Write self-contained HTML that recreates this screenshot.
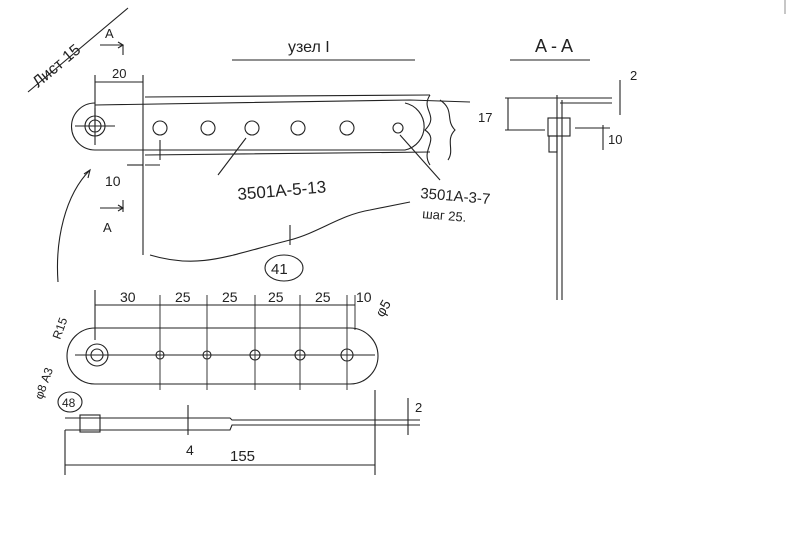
<!DOCTYPE html>
<html><head><meta charset="utf-8"><style>
html,body{margin:0;padding:0;background:#fff}
svg{display:block}
text{font-family:"Liberation Sans","Noto Sans CJK SC",sans-serif;fill:#222}
</style></head><body>
<svg width="800" height="550" viewBox="0 0 800 550" xmlns="http://www.w3.org/2000/svg" fill="none" stroke="#222" stroke-width="1.1">
<rect x="0" y="0" width="800" height="550" fill="#fff" stroke="none"/>
<line x1="785" y1="0" x2="785" y2="14" stroke="#999"/>
<!-- corner stamp -->
<line x1="28" y1="92" x2="128" y2="8"/>
<text x="0" y="0" font-size="16" transform="translate(38,88) rotate(-40)" stroke="none">Лист 15</text>
<!-- top view -->
<text x="105" y="38" font-size="13" stroke="none">A</text>
<line x1="100" y1="45" x2="123" y2="45"/><line x1="123" y1="45" x2="123" y2="55"/><path d="M118,42 L123,45 L118,48" />
<line x1="95" y1="75" x2="95" y2="125"/><line x1="143" y1="75" x2="143" y2="255"/>
<line x1="95" y1="82" x2="143" y2="82"/><text x="112" y="78" font-size="13" stroke="none">20</text>
<path d="M95,105 L410,100 L470,102"/>
<path d="M145,97 L430,95"/>
<path d="M95,103 A22,22 0 0 0 95,150 L405,150 A24,24 0 0 0 405,103"/>
<circle cx="95" cy="126" r="10"/><circle cx="95" cy="126" r="6"/>
<line x1="75" y1="126" x2="115" y2="126"/><line x1="95" y1="108" x2="95" y2="145"/>
<g>
<circle cx="160" cy="128" r="7"/><circle cx="208" cy="128" r="7"/><circle cx="252" cy="128" r="7"/><circle cx="298" cy="128" r="7"/><circle cx="347" cy="128" r="7"/><circle cx="398" cy="128" r="5"/>
</g>
<path d="M145,155 L430,152 M145,165 L160,165"/>
<path d="M430,95 C420,110 440,115 425,130 C440,140 420,150 430,165"/>
<path d="M440,100 C455,110 445,120 455,130 C445,140 455,150 448,160"/>
<line x1="160" y1="140" x2="160" y2="160"/>
<text x="105" y="186" font-size="14" stroke="none">10</text>
<line x1="127" y1="165" x2="143" y2="165"/>
<text x="103" y="232" font-size="13" stroke="none">A</text>
<line x1="100" y1="208" x2="123" y2="208"/><line x1="123" y1="200" x2="123" y2="212"/><path d="M118,205 L123,208 L118,211"/>
<line x1="246" y1="138" x2="218" y2="175"/><line x1="400" y1="135" x2="440" y2="180"/>
<text x="238" y="200" font-size="17" stroke="none" transform="rotate(-5 238 200)">3501A-5-13</text>
<text x="420" y="198" font-size="15" stroke="none" transform="rotate(5 420 198)">3501A-3-7</text>
<text x="422" y="218" font-size="13" stroke="none" transform="rotate(5 422 218)">шаг 25.</text>
<path d="M150,255 C200,270 230,255 290,240 C320,232 340,215 370,210 C380,208 395,205 410,202"/>
<line x1="290" y1="225" x2="290" y2="245"/>
<ellipse cx="284" cy="268" rx="19" ry="13"/><text x="271" y="274" font-size="15" stroke="none">41</text>
<path d="M58,282 C55,240 65,195 90,170"/><path d="M84,174 L90,170 L88,178"/>
<!-- titles -->
<text x="288" y="52" font-size="16" stroke="none">узел I</text>
<line x1="232" y1="60" x2="415" y2="60"/>
<text x="535" y="52" font-size="18" stroke="none">A - A</text>
<line x1="510" y1="60" x2="590" y2="60"/>
<!-- section A-A -->
<line x1="557" y1="95" x2="557" y2="300"/><line x1="562" y1="100" x2="562" y2="300"/>
<line x1="505" y1="98" x2="612" y2="98"/><line x1="560" y1="103" x2="612" y2="103"/>
<rect x="548" y="118" width="22" height="18"/>
<rect x="549" y="136" width="8" height="16"/>
<line x1="505" y1="130" x2="545" y2="130"/><line x1="508" y1="98" x2="508" y2="130"/>
<text x="478" y="122" font-size="13" stroke="none">17</text>
<line x1="620" y1="80" x2="620" y2="115"/><text x="630" y="80" font-size="13" stroke="none">2</text>
<line x1="575" y1="128" x2="610" y2="128"/><line x1="603" y1="125" x2="603" y2="150"/><text x="608" y="144" font-size="13" stroke="none">10</text>
<!-- bottom plan -->
<line x1="95" y1="290" x2="95" y2="340"/>
<line x1="95" y1="305" x2="355" y2="305"/>
<g stroke-width="0.9">
<line x1="160" y1="295" x2="160" y2="390"/><line x1="207" y1="295" x2="207" y2="390"/><line x1="255" y1="295" x2="255" y2="390"/><line x1="300" y1="295" x2="300" y2="390"/><line x1="347" y1="295" x2="347" y2="390"/><line x1="355" y1="295" x2="355" y2="330"/>
</g>
<g font-size="14" stroke="none" fill="#222">
<text x="120" y="302">30</text><text x="175" y="302">25</text><text x="222" y="302">25</text><text x="268" y="302">25</text><text x="315" y="302">25</text><text x="356" y="302">10</text>
</g>
<path d="M95,328 L350,328 A27,27 0 0 1 350,384 L95,384 A28,28 0 0 1 95,328 Z"/>
<circle cx="97" cy="355" r="11"/><circle cx="97" cy="355" r="6"/>
<circle cx="160" cy="355" r="4"/><circle cx="207" cy="355" r="4"/><circle cx="255" cy="355" r="5"/><circle cx="300" cy="355" r="5"/><circle cx="347" cy="355" r="6"/>
<line x1="75" y1="355" x2="375" y2="355"/>
<text x="0" y="0" font-size="12" stroke="none" transform="translate(60,340) rotate(-70)">R15</text>
<text x="0" y="0" font-size="12" stroke="none" transform="translate(42,400) rotate(-70)">φ8 A3</text>
<ellipse cx="70" cy="402" rx="12" ry="10"/><text x="62" y="407" font-size="12" stroke="none">48</text>
<text x="0" y="0" font-size="14" stroke="none" transform="translate(383,318) rotate(-60)">φ5</text>
<!-- side view -->
<path d="M65,418 L230,418 L232,420 L420,420"/>
<path d="M65,430 L230,430 L232,425 L420,425"/>
<rect x="80" y="415" width="20" height="17"/>
<line x1="188" y1="405" x2="188" y2="435"/><text x="186" y="455" font-size="14" stroke="none">4</text>
<line x1="408" y1="398" x2="408" y2="435"/><text x="415" y="412" font-size="13" stroke="none">2</text>
<line x1="65" y1="430" x2="65" y2="475"/><line x1="375" y1="390" x2="375" y2="475"/>
<line x1="65" y1="465" x2="375" y2="465"/>
<text x="230" y="461" font-size="15" stroke="none">155</text>
</svg>
</body></html>
